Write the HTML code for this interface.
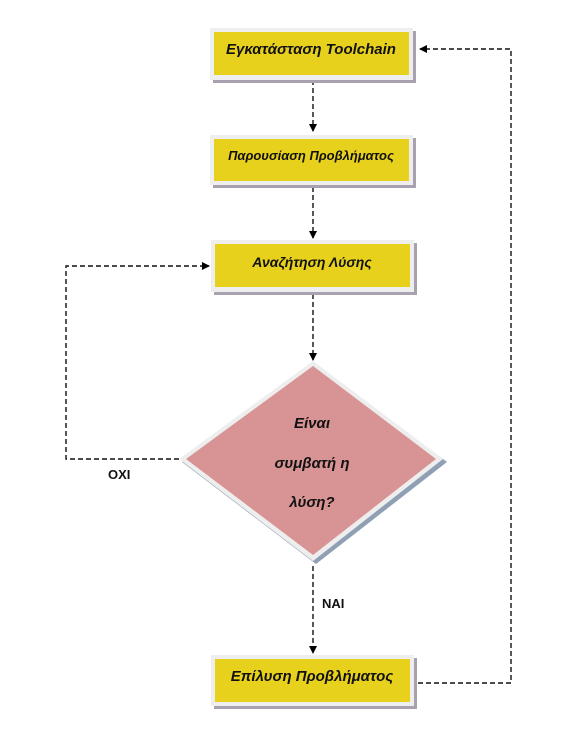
<!DOCTYPE html>
<html><head><meta charset="utf-8"><style>
html,body{margin:0;padding:0;background:#fff;}
svg{display:block;}
text{font-family:"Liberation Sans",sans-serif;font-weight:bold;fill:#111;}
.i{font-style:italic;}
</style></head><body>
<svg width="586" height="741" viewBox="0 0 586 741" xmlns="http://www.w3.org/2000/svg">
<defs>
<marker id="a" markerWidth="8" markerHeight="8" refX="7" refY="4" orient="auto" markerUnits="userSpaceOnUse">
<path d="M0,0 L8,4 L0,8 z" fill="#000"/></marker>
</defs>
<g fill="none" stroke="#111" stroke-width="1.4" stroke-dasharray="5,3">
<path d="M313,80 V131" marker-end="url(#a)"/>
<path d="M313,187 V238" marker-end="url(#a)"/>
<path d="M313,294 V360" marker-end="url(#a)"/>
<path d="M313,566 V653" marker-end="url(#a)"/>
<path d="M179,459 H66 V266 H209" marker-end="url(#a)"/>
<path d="M418,683 H511 V49 H420" marker-end="url(#a)"/>
</g>
<g>
<rect x="213" y="31" width="203" height="52" fill="#a9a0b0"/>
<rect x="210" y="28" width="203" height="52" fill="#eeeeee"/>
<rect x="214" y="32" width="195" height="43" fill="#e8d11c"/>
<rect x="213" y="138" width="203" height="50" fill="#a9a0b0"/>
<rect x="210" y="135" width="203" height="50" fill="#eeeeee"/>
<rect x="214" y="139" width="195" height="42" fill="#e8d11c"/>
<rect x="214" y="243" width="203" height="52" fill="#a9a0b0"/>
<rect x="211" y="240" width="203" height="52" fill="#eeeeee"/>
<rect x="215" y="244" width="195" height="43" fill="#e8d11c"/>
<rect x="214" y="658" width="203" height="51" fill="#a9a0b0"/>
<rect x="211" y="655" width="203" height="51" fill="#eeeeee"/>
<rect x="215" y="659" width="195" height="43" fill="#e8d11c"/>
</g>
<polygon points="316,365 447,462 316,564 182,462" fill="#8fa0b4"/>
<polygon points="313,361 443,459 313,561 179,459" fill="#eeeeee"/>
<polygon points="313,366 436,459 313,555 186,459" fill="#d89494"/>
<text class="i" x="311" y="54" font-size="15" text-anchor="middle">Εγκατάσταση Toolchain</text>
<text class="i" x="311" y="160" font-size="13" text-anchor="middle">Παρουσίαση  Προβλήματος</text>
<text class="i" x="312" y="267" font-size="14" text-anchor="middle">Αναζήτηση  Λύσης</text>
<text class="i" x="312" y="681" font-size="15" text-anchor="middle">Επίλυση Προβλήματος</text>
<text class="i" x="312" y="428" font-size="15" text-anchor="middle">Είναι</text>
<text class="i" x="312" y="468" font-size="15" text-anchor="middle">συμβατή η</text>
<text class="i" x="312" y="507" font-size="15" text-anchor="middle">λύση?</text>
<text x="108" y="479" font-size="13">ΟΧΙ</text>
<text x="322" y="608" font-size="13">ΝΑΙ</text>
</svg>
</body></html>
